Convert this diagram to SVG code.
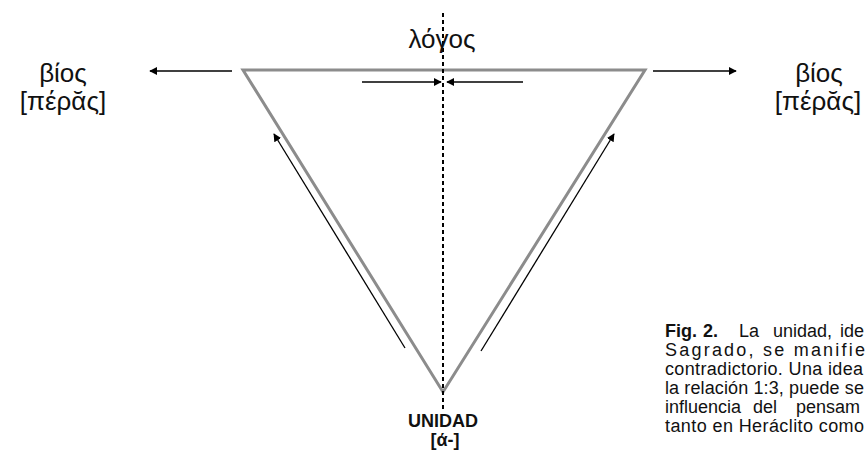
<svg xmlns="http://www.w3.org/2000/svg" width="866" height="450" viewBox="0 0 866 450">
<defs>
<style>
.gk{font-family:"Liberation Sans","DejaVu Sans",sans-serif;font-size:26px;fill:#111}
.cap{font-family:"Liberation Sans",Arial,sans-serif;font-size:18px;fill:#111}
.lbl{font-family:"Liberation Sans",Arial,sans-serif;font-size:18px;font-weight:bold;fill:#111}
.arr{stroke:#000;stroke-width:1.3;fill:none;marker-end:url(#ah)}
.tri{stroke:#8c8c8c;stroke-width:3;fill:none;stroke-linejoin:miter}
.axis{stroke:#000;stroke-width:2;stroke-dasharray:4 3;fill:none}
</style>
<marker id="ah" viewBox="0 0 10 10" refX="9" refY="5" markerWidth="8" markerHeight="8" markerUnits="userSpaceOnUse" orient="auto">
<path d="M0,0 L10,5 L0,10 Z" fill="#000"/>
</marker>
</defs>
<rect width="866" height="450" fill="#fff"/>
<g id="triangle">
<polygon class="tri" points="243,70 645,70 443,392"/>
</g>
<g id="axis">
<line class="axis" x1="443" y1="13" x2="443" y2="410"/>
</g>
<g id="connectors">
<line class="arr" x1="232" y1="71" x2="150" y2="71"/>
<line class="arr" x1="653" y1="71" x2="736" y2="71"/>
<line class="arr" x1="362" y1="82" x2="441" y2="82"/>
<line class="arr" x1="523" y1="82" x2="447" y2="82"/>
<line class="arr" x1="405" y1="348" x2="274" y2="134"/>
<line class="arr" x1="481" y1="351" x2="614" y2="134"/>
</g>
<g id="logos">
<text class="gk" x="442" y="48" text-anchor="middle" font-size="27">λόγος</text>
</g>
<g id="bios-left">
<text class="gk" x="63" y="82" text-anchor="middle">βίος</text>
<text class="gk" x="63" y="110" text-anchor="middle">[πέρᾰς]</text>
</g>
<g id="bios-right">
<text class="gk" x="819" y="82" text-anchor="middle">βίος</text>
<text class="gk" x="818" y="110" text-anchor="middle">[πέρᾰς]</text>
</g>
<g id="unidad">
<text class="lbl" x="443" y="427" text-anchor="middle">UNIDAD</text>
<text class="lbl" x="445" y="446" text-anchor="middle">[ά-]</text>
</g>
<g id="caption">
<text class="cap" y="337"><tspan x="665" font-weight="bold">Fig.</tspan><tspan x="703" font-weight="bold">2.</tspan><tspan x="739">La</tspan><tspan x="773">unidad,</tspan><tspan x="840">ide</tspan></text>
<text class="cap" x="665" y="356" textLength="200" lengthAdjust="spacing">Sagrado, se manifie</text>
<text class="cap" x="665" y="375" textLength="198" lengthAdjust="spacing">contradictorio. Una idea</text>
<text class="cap" x="665" y="394" textLength="199" lengthAdjust="spacing">la relación 1:3, puede se</text>
<text class="cap" y="413"><tspan x="665">influencia</tspan><tspan x="753">del</tspan><tspan x="796">pensam</tspan></text>
<text class="cap" x="665" y="432" textLength="199" lengthAdjust="spacing">tanto en Heráclito como</text>
</g>
</svg>
